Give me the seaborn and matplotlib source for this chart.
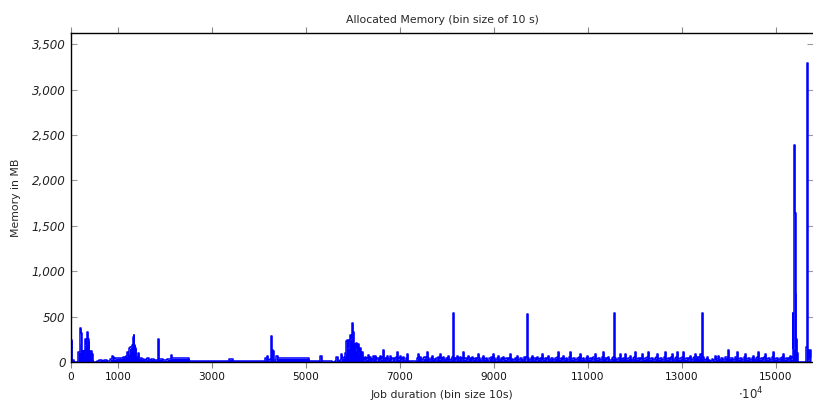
import numpy as np
import pandas as pd
import matplotlib
matplotlib.use("Agg")
import matplotlib.pyplot as plt
from matplotlib.ticker import FuncFormatter
import seaborn as sns

# Allocated memory per 10 s bin (MB), written segment by segment
early_x = [0, 15, 25, 60, 140, 150, 175, 190, 200, 215, 225, 245, 260, 275, 290, 305, 320, 335,
           345, 360, 375, 390, 405, 420, 440, 460, 475, 530, 560, 600, 650, 700, 760, 800, 840,
           870, 890, 910, 940, 1000, 1060, 1100, 1140, 1160, 1190, 1215, 1240, 1265, 1290, 1315,
           1335, 1350, 1370, 1390, 1410, 1430, 1450, 1500, 1560, 1600, 1620, 1650, 1700, 1760,
           1830, 1845, 1860, 1870, 1950, 2050, 2110, 2125, 2140, 2200, 2300, 2400, 2500]
early_y = [240, 240, 20, 5, 5, 110, 110, 200, 370, 320, 120, 60, 120, 60, 180, 250, 200, 290,
           330, 250, 230, 120, 110, 120, 90, 30, 5, 5, 10, 20, 15, 20, 10, 10, 30,
           65, 60, 30, 40, 45, 45, 50, 45, 65, 110, 90, 150, 160, 190, 280,
           300, 190, 150, 60, 55, 100, 40, 30, 25, 30, 45, 25, 30, 25,
           25, 250, 250, 30, 20, 30, 35, 75, 40, 40, 40, 40, 40]

mid_x = [2520, 3000, 3300, 3360, 3420, 3440, 4000, 4100, 4130, 4170, 4190, 4230, 4245, 4260,
         4270, 4290, 4310, 4350, 4370, 4390, 4400, 4700, 5000, 5050, 5070, 5280, 5300, 5320,
         5330, 5550, 5620, 5640, 5660, 5680, 5730, 5750, 5770, 5800, 5830, 5850, 5870, 5890,
         5910, 5930, 5950, 5970, 5985, 6000, 6015, 6030, 6045, 6060, 6080, 6100, 6120, 6140,
         6160, 6190, 6210]
mid_y = [15, 15, 15, 30, 30, 15, 15, 15, 45, 70, 20, 30, 285, 285,
         130, 120, 25, 20, 70, 70, 40, 40, 40, 40, 15, 15, 65, 65,
         10, 5, 10, 60, 60, 15, 20, 85, 40, 60, 100, 230, 240, 150,
         240, 300, 250, 330, 425, 330, 210, 200, 130, 210, 170, 200, 100, 150,
         60, 110, 40]

comb_x = [6230, 6255, 6280, 6300, 6319, 6340, 6362, 6385, 6405, 6426, 6445, 6468, 6490, 6520,
          6545, 6574, 6595, 6615, 6638, 6660, 6690, 6705, 6723, 6745, 6787, 6805, 6840, 6870,
          6900, 6915, 6936, 6955, 6980, 7000, 7020, 7040, 7064, 7085, 7120, 7149, 7170, 7250,
          7320, 7362, 7383, 7405, 7426, 7450, 7490, 7520, 7550, 7574, 7595, 7620, 7650, 7681,
          7700, 7740, 7770, 7800, 7830, 7851, 7870, 7895, 7915, 7935, 7970, 8000, 8021, 8045,
          8080, 8105, 8128, 8140, 8170, 8190, 8213, 8235, 8255, 8277, 8300, 8320, 8340, 8360,
          8390, 8420, 8447, 8470, 8500, 8532, 8555, 8590, 8620, 8640, 8660, 8680, 8710, 8740,
          8766, 8790, 8830, 8860, 8900, 8930, 8955, 8979, 9000, 9030, 9060, 9085, 9105, 9140,
          9170, 9191, 9215, 9260, 9290, 9315, 9340, 9360, 9400, 9440, 9465, 9489, 9510, 9550,
          9590, 9630, 9665, 9690, 9702, 9715, 9750, 9780, 9809, 9830, 9860, 9890, 9915, 9940,
          9980, 10000, 10021, 10045, 10080, 10110, 10130, 10149, 10170, 10210, 10250, 10290,
          10330, 10362, 10385, 10420, 10445, 10468, 10490, 10530, 10560, 10590, 10617, 10640,
          10680, 10720, 10760, 10800, 10830, 10855, 10890, 10920, 10950, 10979, 11000, 11040,
          11080, 11110, 11149, 11170, 11210, 11250, 11290, 11319, 11340, 11380, 11405, 11426,
          11450, 11500, 11530, 11553, 11565, 11600, 11640, 11681, 11700, 11740, 11787, 11810,
          11850, 11894, 11915, 11950, 11980, 12000, 12020, 12060, 12100, 12130, 12149, 12170,
          12210, 12250, 12277, 12300, 12340, 12380, 12420, 12445, 12468, 12490, 12530, 12570,
          12610, 12638, 12660, 12700, 12740, 12765, 12787, 12810, 12850, 12870, 12894, 12915,
          12960, 12995, 13021, 13045, 13090, 13130, 13150, 13170, 13195, 13230, 13255, 13277,
          13300, 13330, 13360, 13383, 13400, 13426, 13440, 13470, 13500, 13532, 13560, 13600,
          13640, 13670, 13702, 13730, 13766, 13790, 13830, 13870, 13910, 13950, 13979, 14000,
          14040, 14080, 14120, 14150, 14170, 14190, 14230, 14270, 14310, 14340, 14360, 14400,
          14440, 14480, 14511, 14535, 14570, 14590, 14617, 14640, 14680, 14720, 14745, 14766,
          14790, 14830, 14870, 14910, 14936, 14960, 15000, 15040, 15080, 15120, 15149, 15170,
          15210, 15250, 15275, 15298, 15320]
comb_y = [20, 60, 30, 45, 75, 20, 50, 15, 35, 65, 40, 70, 20, 40,
          15, 65, 30, 50, 130, 30, 45, 15, 65, 35, 70, 20, 40, 15,
          45, 60, 110, 30, 40, 65, 20, 45, 60, 15, 40, 85, 15, 10,
          15, 40, 85, 45, 60, 20, 40, 55, 40, 110, 45, 20, 45, 70,
          30, 15, 40, 55, 30, 85, 40, 20, 60, 25, 40, 20, 70, 20,
          35, 55, 545, 40, 20, 45, 70, 25, 40, 55, 15, 40, 110, 30,
          40, 20, 70, 40, 15, 60, 30, 45, 15, 40, 85, 40, 15, 40,
          65, 30, 45, 15, 40, 50, 25, 85, 40, 20, 45, 70, 25, 40,
          20, 60, 30, 45, 20, 40, 85, 35, 20, 45, 30, 65, 20, 40,
          25, 50, 20, 60, 525, 40, 20, 45, 70, 25, 40, 20, 55, 30,
          45, 20, 85, 30, 45, 20, 40, 65, 25, 45, 20, 40,
          50, 110, 30, 45, 20, 70, 30, 45, 20, 50, 110, 30,
          40, 20, 45, 55, 85, 30, 45, 15, 40, 70, 30, 45,
          20, 50, 85, 30, 40, 20, 50, 110, 40, 20, 45, 50,
          20, 40, 55, 535, 40, 20, 45, 85, 35, 45, 85, 30,
          40, 65, 25, 40, 50, 110, 30, 45, 20, 45, 85, 30,
          40, 55, 110, 30, 45, 20, 40, 55, 85, 30, 45, 20,
          50, 110, 30, 45, 20, 50, 85, 25, 45, 50, 110, 30,
          40, 55, 110, 30, 45, 20, 40, 65, 20, 45, 50, 85,
          50, 45, 60, 85, 80, 545, 50, 20, 30, 50, 20, 10,
          35, 20, 70, 30, 70, 25, 45, 20, 50, 60, 130, 40,
          45, 20, 50, 60, 110, 30, 45, 20, 50, 85, 30, 45,
          20, 45, 65, 25, 40, 55, 110, 30, 45, 20, 55, 85,
          30, 45, 20, 55, 110, 30, 45, 20, 45, 50, 85, 30,
          45, 20, 40, 65, 30]

tail_x = [15340, 15355, 15370, 15383, 15400, 15415, 15430, 15445, 15460, 15620, 15640, 15655,
          15670, 15700, 15720, 15745]
tail_y = [60, 540, 150, 2390, 1640, 760, 250, 100, 0, 0, 170, 3290, 20, 130, 60, 130]

x_ticks = [0, 1000, 3000, 5000, 7000, 9000, 11000, 13000, 15000]
y_ticks = [0, 500, 1000, 1500, 2000, 2500, 3000, 3500]

df = pd.DataFrame({
    "bin": early_x + mid_x + comb_x + tail_x,
    "mem": early_y + mid_y + comb_y + tail_y,
})

sns.set_theme(style="white")
plt.rcParams["font.family"] = ["DejaVu Sans"]
plt.rcParams["mathtext.fontset"] = "dejavusans"

W, H = 813, 403
fig = plt.figure(figsize=(W / 100, H / 100), dpi=100)
ax = fig.add_axes([71 / W, 1 - 362 / H, 742 / W, 329 / H])

sns.lineplot(data=df, x="bin", y="mem", ax=ax, color="#0000ff", linewidth=1.1,
             drawstyle="steps-post", sort=True, estimator=None)
# area under the memory curve
ax.fill_between(df["bin"], df["mem"], step="post", color="#0000ff", linewidth=0)

ax.set_xlim(0, 15787)
ax.set_ylim(0, 3623)
ax.set_xticks(x_ticks)
ax.set_xticklabels([str(t) for t in x_ticks], fontsize=7.6, color="#111111")
ax.set_yticks(y_ticks)
ax.yaxis.set_major_formatter(FuncFormatter(lambda v, p: f"{int(v):,}"))
for lab in ax.get_yticklabels():
    lab.set_fontstyle("italic")
    lab.set_fontsize(8.6)
    lab.set_color("#222222")

ax.tick_params(axis="x", which="major", direction="out", length=4, width=0.8,
               color="#888888", top=True, bottom=True, pad=3)
ax.tick_params(axis="y", which="major", direction="in", length=4, width=0.8,
               color="#999999", left=True, right=True, pad=4)

for side in ["left", "top", "bottom"]:
    ax.spines[side].set_color("black")
    ax.spines[side].set_linewidth(1.0)
ax.spines["right"].set_visible(False)

ax.set_xlabel("Job duration (bin size 10s)", fontsize=7.8, labelpad=6)
ax.set_ylabel("Memory in MB", fontsize=7.8, labelpad=8)
ax.set_title("Allocated Memory (bin size of 10 s)", fontsize=7.8, pad=7)
fig.text(738 / W, 1 - 399 / H, r"$\cdot\mathit{10^{4}}$", fontsize=8.5, ha="left", va="baseline")

fig.savefig("out.png", dpi=100)
